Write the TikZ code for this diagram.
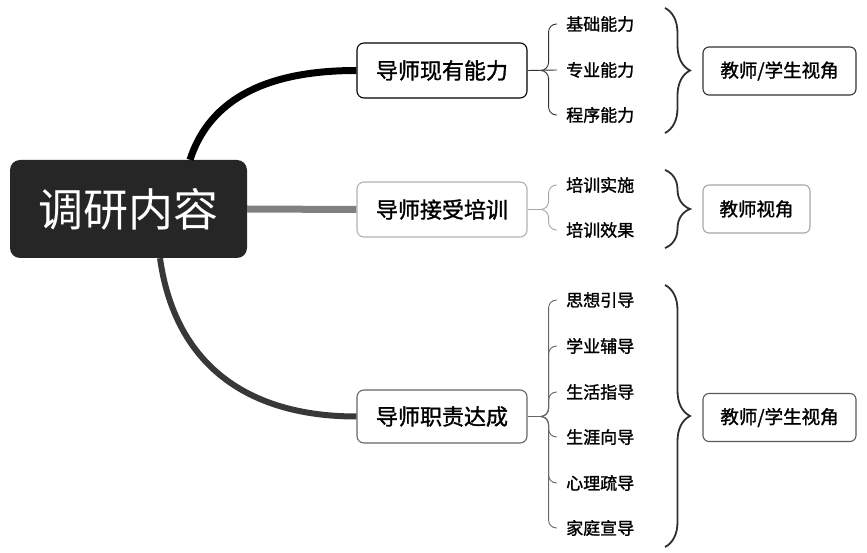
\documentclass[tikz,border=0pt]{standalone}
\usepackage{fontspec}
\setmainfont{Noto Sans CJK SC}
\newfontfamily\negrita[FakeBold=1.4]{Noto Sans CJK SC}
\usetikzlibrary{decorations.pathreplacing}
\tikzstyle{raiz} = [fill=black!85, text=white, rounded corners=10pt, minimum width=237pt, minimum height=98pt, inner sep=0pt, font=\fontsize{45}{45}\selectfont]
\tikzstyle{rama} = [draw, fill=white, rounded corners=7pt, minimum width=170pt, minimum height=55pt, inner sep=0pt, line width=1.1pt, font=\negrita\fontsize{22}{22}\selectfont]
\tikzstyle{hoja} = [anchor=west, inner sep=0pt, font=\negrita\fontsize{17}{17}\selectfont]
\tikzstyle{vista} = [draw, rounded corners=6pt, minimum height=48pt, inner sep=0pt, line width=1.1pt, font=\negrita\fontsize{18.5}{18.5}\selectfont]
\tikzstyle{llave} = [decorate, decoration={brace, amplitude=25pt}, line width=1.8pt, draw=black!82]
\tikzstyle{brazo} = [rounded corners=8pt, line width=0.9pt]

\begin{document}
\begin{tikzpicture}[x=1pt, y=1pt]
	\useasboundingbox (0,0) rectangle (867,552);
	\node[raiz] (raiz) at (128.5,343) {调研内容};
	\node[rama, draw=black] (b1) at (442,481.5) {导师现有能力};
	\node[rama, draw=black!30] (b2) at (442,342.5) {导师接受培训};
	\node[rama, draw=black!60, minimum height=53pt] (b3) at (442,135.5) {导师职责达成};
	% ramas principales
	\draw[line width=7pt] ([xshift=61.5pt]raiz.north) to[out=72,in=180] (b1.west);
	\draw[line width=7pt, black!50] (raiz.east) -- (b2.west);
	\draw[line width=6pt, black!78] ([xshift=31.5pt]raiz.south) to[out=-82,in=180,looseness=1.1] (b3.west);
	% hojas
	\node[hoja] (s11) at (566,528) {基础能力};
	\node[hoja] (s12) at (566,482) {专业能力};
	\node[hoja] (s13) at (566,437) {程序能力};
	\node[hoja] (s21) at (566,367) {培训实施};
	\node[hoja] (s22) at (566,322) {培训效果};
	\node[hoja] (s31) at (566,252) {思想引导};
	\node[hoja] (s32) at (566,206) {学业辅导};
	\node[hoja] (s33) at (566,160) {生活指导};
	\node[hoja] (s34) at (566,115) {生涯向导};
	\node[hoja] (s35) at (566,69) {心理疏导};
	\node[hoja] (s36) at (566,24) {家庭宣导};
	\coordinate (t1) at ([xshift=13pt]b1.east);
	\coordinate (t2) at ([xshift=13pt]b2.east);
	\coordinate (t3) at ([xshift=15pt]b3.east);
	\draw[brazo, black!80] (b1.east) -- ([xshift=-9pt]s12.west);
	\foreach \s in {s11,s13}
		\draw[brazo, black!80] (t1) -- ++(8,0) |- ([xshift=-9pt]\s.west);
	\draw[brazo, black!35] (b2.east) -- (t2);
	\foreach \s in {s21,s22}
		\draw[brazo, black!35] (t2) -- ++(8,0) |- ([xshift=-9pt]\s.west);
	\draw[brazo, black!60] (b3.east) -- (t3);
	\foreach \s in {s31,s32,s33,s34,s35,s36}
		\draw[brazo, black!60] (t3) -- ++(6,0) |- ([xshift=-9pt]\s.west);
	% llaves
	\coordinate (l1a) at (665,544);
	\coordinate (l1b) at (665,419);
	\coordinate (l2a) at (665,382);
	\coordinate (l2b) at (665,304);
	\coordinate (l3a) at (665,267);
	\coordinate (l3b) at (665,5);
	\draw[llave] (l1a) -- (l1b);
	\draw[llave] (l2a) -- (l2b);
	\draw[llave] (l3a) -- (l3b);
	\node[vista, draw=black!80, minimum width=153pt] (r1) at (779.5,481) {教师/学生视角};
	\node[vista, draw=black!35, minimum width=107pt] (r2) at (756.5,343) {教师视角};
	\node[vista, draw=black!65, minimum width=153pt] (r3) at (779.5,134.5) {教师/学生视角};
\end{tikzpicture}
\end{document}
